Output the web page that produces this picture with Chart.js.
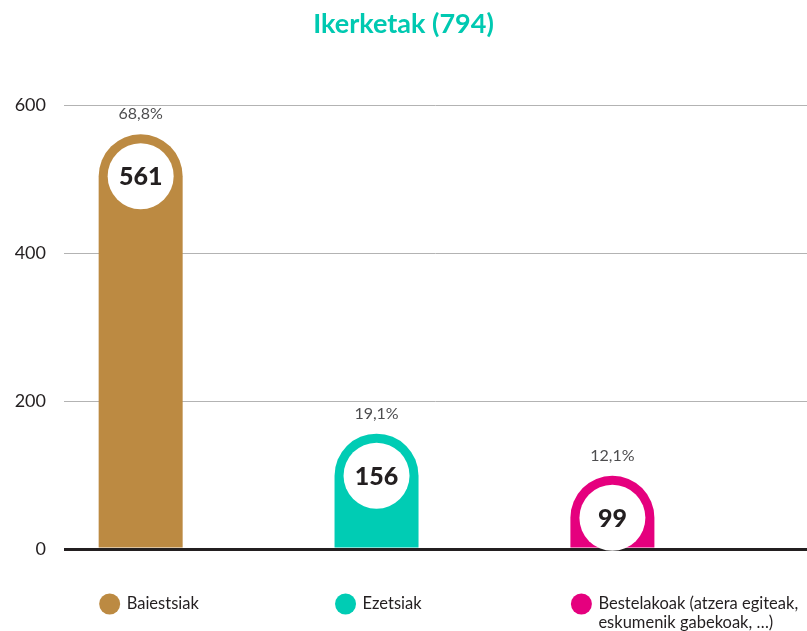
<!DOCTYPE html>
<html>
<head>
<meta charset="utf-8">
<script src="https://cdn.jsdelivr.net/npm/chart.js@4.4.0/dist/chart.umd.min.js"></script>
<style>
  html, body { margin: 0; padding: 0; background: #fff; }
  #wrap { width: 807px; height: 631px; }
</style>
</head>
<body>
<div id="wrap"><canvas id="barChart"></canvas></div>
<script>
    const categories = ['Baiestsiak', 'Ezetsiak', 'Bestelakoak (atzera egiteak, eskumenik gabekoak, …)'];
    const legendLines = [['Baiestsiak'], ['Ezetsiak'], ['Bestelakoak (atzera egiteak,', 'eskumenik gabekoak, …)']];
    const counts = [561, 156, 99];
    const percents = ['68,8%', '19,1%', '12,1%'];
    const yTicks = [0, 200, 400, 600];
    const barColors = ['#bc8a42', '#00ccb4', '#e5007e'];

    const FONT = 'Lato, "Open Sans", sans-serif';

    // ---------------- Plugin: arch bars, labels, legend ----------------
    const archBars = {
        id: 'archBars',
        afterDatasetsDraw(chart) {
            const ctx = chart.ctx;
            const meta = chart.getDatasetMeta(0);
            meta.data.forEach((bar, i) => {
                const { x, y, base, width } = bar.getProps(['x', 'y', 'base', 'width'], true);
                const r = width / 2;
                const cy = Math.min(y + r, base);
                ctx.save();

                // rounded-top bar
                ctx.fillStyle = barColors[i];
                ctx.beginPath();
                ctx.moveTo(x - r, base);
                ctx.lineTo(x - r, cy);
                ctx.arc(x, cy, r, Math.PI, 0);
                ctx.lineTo(x + r, base);
                ctx.closePath();
                ctx.fill();

                // white disc with the count
                ctx.fillStyle = '#fff';
                ctx.beginPath();
                ctx.arc(x, cy, r - 9, 0, Math.PI * 2);
                ctx.fill();

                ctx.fillStyle = '#231f20';
                ctx.textAlign = 'center';
                ctx.textBaseline = 'middle';
                ctx.font = '900 25px ' + FONT;
                ctx.fillText(String(counts[i]), x, cy + 1);

                // percentage above
                ctx.fillStyle = '#4d4d4f';
                ctx.font = '16px ' + FONT;
                ctx.fillText(percents[i], x, y - 20);

                // legend under each bar
                const left = x - r;
                ctx.fillStyle = barColors[i];
                ctx.beginPath();
                ctx.arc(left + 11, 604, 10.5, 0, Math.PI * 2);
                ctx.fill();
                ctx.fillStyle = '#231f20';
                ctx.textAlign = 'left';
                ctx.font = '16.5px ' + FONT;
                legendLines[i].forEach((line, k) => {
                    ctx.fillText(line, left + 28, 604 + k * 19);
                });
                ctx.restore();
            });
        }
    };

    const barCtx = document.getElementById('barChart').getContext('2d');
    new Chart(barCtx, {
        type: 'bar',
        data: {
            datasets: [{
                label: 'Ikerketak',
                data: counts.map((v, i) => ({ x: i, y: v })),
                backgroundColor: 'rgba(0,0,0,0)',
                barThickness: 84
            }]
        },
        options: {
            responsive: true,
            maintainAspectRatio: false,
            animation: false,
            layout: { padding: { left: 0, right: 0, bottom: 82 } },
            plugins: {
                legend: { display: false },
                tooltip: { enabled: false },
                title: {
                    display: true,
                    text: 'Ikerketak (794)',
                    color: '#00c9b1',
                    font: { family: FONT, size: 27, weight: 'bold' },
                    padding: { top: 8, bottom: 65 }
                }
            },
            scales: {
                x: {
                    type: 'linear',
                    offset: false,
                    min: -0.325,
                    max: 2.825,
                    display: false
                },
                y: {
                    min: 0,
                    max: 600,
                    afterBuildTicks: s => { s.ticks = yTicks.map(v => ({ value: v })); },
                    afterFit: s => { s.width = 64; },
                    border: { display: false },
                    grid: {
                        drawTicks: false,
                        color: c => c.tick.value === 0 ? '#231f20' : '#b3b3b3',
                        lineWidth: c => c.tick.value === 0 ? 3 : 1
                    },
                    ticks: {
                        padding: 18,
                        color: '#231f20',
                        font: { family: FONT, size: 18 }
                    }
                }
            }
        },
        plugins: [archBars]
    });
</script>
</body>
</html>
